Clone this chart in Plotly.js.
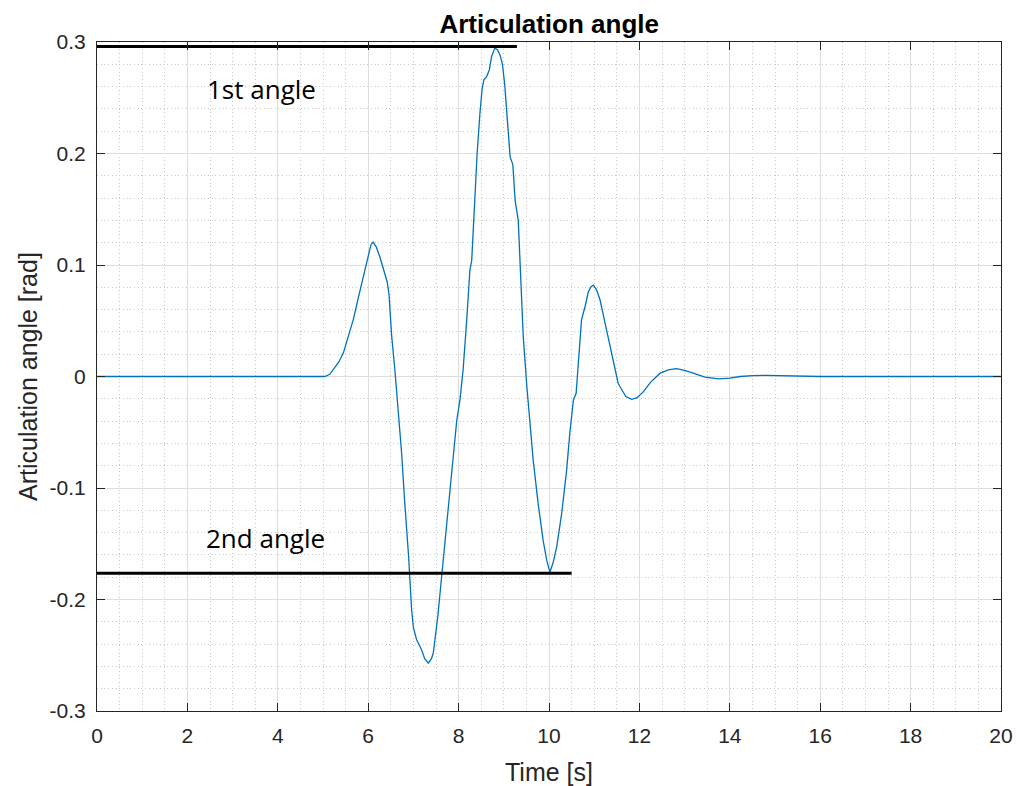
<!DOCTYPE html>
<html><head><meta charset="utf-8">
<script src="https://cdn.plot.ly/plotly-3.0.1.min.js"></script>
<style>html,body{margin:0;padding:0;background:#fff}#chart{width:1017px;height:786px}</style>
</head><body><div id="chart"></div>
<script>
// Time [s]
const timeS = [0, 1, 2, 3, 4, 5.0, 5.04, 5.15, 5.23, 5.35, 5.45, 5.52, 5.6, 5.67, 5.76, 5.86, 5.93, 6.0, 6.06, 6.11, 6.18, 6.26, 6.32, 6.37, 6.42, 6.46, 6.52, 6.59, 6.67, 6.74, 6.81, 6.89, 6.96, 7.0, 7.07, 7.18, 7.25, 7.33, 7.4, 7.44, 7.54, 7.63, 7.74, 7.85, 7.96, 8.03, 8.1, 8.18, 8.25, 8.29, 8.34, 8.41, 8.47, 8.52, 8.56, 8.62, 8.68, 8.73, 8.8, 8.86, 8.92, 8.97, 9.02, 9.06, 9.1, 9.14, 9.2, 9.25, 9.32, 9.36, 9.43, 9.51, 9.58, 9.65, 9.76, 9.87, 9.95, 10.02, 10.09, 10.17, 10.28, 10.39, 10.46, 10.54, 10.6, 10.65, 10.72, 10.8, 10.87, 10.93, 10.98, 11.05, 11.13, 11.25, 11.35, 11.45, 11.53, 11.57, 11.7, 11.83, 11.95, 12.09, 12.25, 12.46, 12.64, 12.82, 13.0, 13.19, 13.45, 13.75, 14.0, 14.23, 14.5, 14.82, 15.2, 15.55, 16, 17, 18, 19, 20];
// Articulation angle [rad]
const angleRad = [0, 0, 0, 0, 0, 0, 0, 0.002, 0.006, 0.013, 0.021, 0.03, 0.04, 0.051, 0.067, 0.084, 0.097, 0.11, 0.118, 0.1205, 0.116, 0.107, 0.099, 0.0925, 0.085, 0.074, 0.036, 0.006, -0.033, -0.069, -0.114, -0.159, -0.209, -0.225, -0.236, -0.245, -0.253, -0.257, -0.253, -0.248, -0.215, -0.176, -0.129, -0.087, -0.039, -0.021, 0.006, 0.051, 0.0955, 0.104, 0.15, 0.2, 0.235, 0.258, 0.266, 0.269, 0.275, 0.287, 0.2945, 0.293, 0.288, 0.28, 0.262, 0.24, 0.215, 0.197, 0.19, 0.158, 0.14, 0.0955, 0.036, -0.009, -0.045, -0.075, -0.114, -0.147, -0.165, -0.1755, -0.167, -0.153, -0.123, -0.084, -0.051, -0.021, -0.015, 0.0148, 0.051, 0.063, 0.076, 0.0805, 0.082, 0.078, 0.0686, 0.046, 0.027, 0.008, -0.006, -0.009, -0.018, -0.0205, -0.019, -0.0136, -0.005, 0.003, 0.006, 0.007, 0.0055, 0.003, -0.0005, -0.0022, -0.0015, 0, 0.0008, 0.001, 0.0005, 0, 0, 0, 0, 0, 0];

// Reference lines
const firstAngleLineX = [-0.13, 9.29];
const firstAngleLineY = [0.296, 0.296];
const secondAngleLineX = [-0.47, 10.5];
const secondAngleLineY = [-0.1765, -0.1765];

// Text labels
const labelTexts = ['1st angle', '2nd angle'];
const labelX = [2.38, 2.36];
const labelY = [0.2575, -0.1445];

// Ticks
const xTickVals = [0, 2, 4, 6, 8, 10, 12, 14, 16, 18, 20];
const xTickText = ['0', '2', '4', '6', '8', '10', '12', '14', '16', '18', '20'];
const yTickVals = [-0.3, -0.2, -0.1, 0, 0.1, 0.2, 0.3];
const yTickText = ['-0.3', '-0.2', '-0.1', '0', '0.1', '0.2', '0.3'];

const axisColor = '#262626';
const tickFont = {family: 'Liberation Sans, Arial, sans-serif', size: 21, color: axisColor};

const traces = [
  {x: timeS, y: angleRad, type: 'scatter', mode: 'lines', line: {color: '#0072BD', width: 1.3}, hoverinfo: 'x+y', showlegend: false},
  {x: firstAngleLineX, y: firstAngleLineY, type: 'scatter', mode: 'lines', line: {color: '#000000', width: 3}, cliponaxis: false, showlegend: false},
  {x: secondAngleLineX, y: secondAngleLineY, type: 'scatter', mode: 'lines', line: {color: '#000000', width: 3}, cliponaxis: false, showlegend: false}
];

const annotations = labelTexts.map((t, i) => ({
  text: t, x: labelX[i], y: labelY[i], xref: 'x', yref: 'y', xanchor: 'left', yanchor: 'middle',
  showarrow: false, font: {family: 'Open Sans, Noto Sans, sans-serif', size: 26, color: '#000000'}
}));

const layout = {
  width: 1017, height: 786,
  paper_bgcolor: '#ffffff', plot_bgcolor: '#ffffff',
  margin: {l: 97, r: 16, t: 42, b: 75, pad: 0},
  showlegend: false,
  title: {text: '<b>Articulation angle</b>', x: 0.54, xanchor: 'center', y: 1 - 24 / 786, yanchor: 'middle', yref: 'container',
          font: {family: 'Liberation Sans, Arial, sans-serif', size: 26, color: '#000000'}},
  xaxis: {
    range: [0, 20], autorange: false, tickmode: 'array', tickvals: xTickVals, ticktext: xTickText,
    ticks: 'inside', ticklen: 8, tickwidth: 1, tickcolor: axisColor,
    showline: true, linecolor: axisColor, linewidth: 1, mirror: 'ticks',
    showgrid: true, gridcolor: '#dedede', gridwidth: 1, zeroline: false,
    tickfont: tickFont, ticklabelstandoff: 6,
    minor: {tick0: 0, dtick: 0.5, showgrid: true, gridcolor: '#c8c8c8', gridwidth: 1, griddash: '1px,2.7px', ticks: ''},
    title: {text: 'Time [s]', font: {family: 'Liberation Sans, Arial, sans-serif', size: 25, color: axisColor}, standoff: 18},
    automargin: false
  },
  yaxis: {
    range: [-0.3, 0.3], autorange: false, tickmode: 'array', tickvals: yTickVals, ticktext: yTickText,
    ticks: 'inside', ticklen: 8, tickwidth: 1, tickcolor: axisColor,
    showline: true, linecolor: axisColor, linewidth: 1, mirror: 'ticks',
    showgrid: true, gridcolor: '#dedede', gridwidth: 1, zeroline: false,
    tickfont: tickFont, ticklabelstandoff: 6,
    minor: {tick0: 0, dtick: 0.02, showgrid: true, gridcolor: '#c8c8c8', gridwidth: 1, griddash: '1px,2.7px', ticks: ''},
    title: {text: 'Articulation angle [rad]', font: {family: 'Liberation Sans, Arial, sans-serif', size: 25, color: axisColor}, standoff: 4},
    automargin: false
  },
  annotations: annotations
};

Plotly.newPlot('chart', traces, layout, {displayModeBar: false, staticPlot: true});
</script>
</body></html>
